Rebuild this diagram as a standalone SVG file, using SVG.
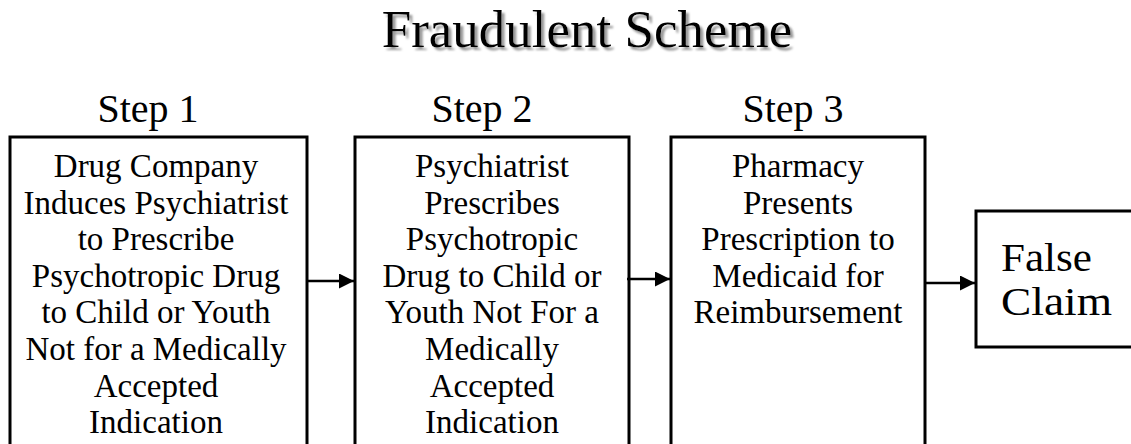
<svg xmlns="http://www.w3.org/2000/svg" width="1131" height="444" viewBox="0 0 1131 444">
<style>
text{font-family:"Liberation Serif","Times New Roman",serif;fill:#000}
.t{font-size:33px;text-anchor:middle}
.step{font-size:40px;text-anchor:middle}
.box{fill:#fff;stroke:#000;stroke-width:3}
.conn{stroke:#000;stroke-width:2.5;fill:none}
.fc{font-size:39px}
</style>
<defs>
<marker id="ah" viewBox="0 0 10 10" refX="10" refY="5" markerWidth="7" markerHeight="6" markerUnits="strokeWidth" orient="auto">
<path d="M0,0 L10,5 L0,10 z" fill="#000"/>
</marker>
<filter id="shadow" x="-5%" y="-20%" width="110%" height="150%">
<feDropShadow dx="3" dy="3" stdDeviation="1" flood-color="#9a9a9a" flood-opacity="1"/>
</filter>
</defs>
<rect width="1131" height="444" fill="#fff"/>
<g id="title">
<text x="587" y="47" font-size="53" text-anchor="middle" filter="url(#shadow)">Fraudulent Scheme</text>
</g>
<g id="step-labels">
<text class="step" x="148" y="122">Step 1</text>
<text class="step" x="482" y="122">Step 2</text>
<text class="step" x="793" y="122">Step 3</text>
</g>
<g id="node1">
<rect class="box" x="10" y="137" width="297" height="320"/>
<text class="t" x="156" y="177">Drug Company</text>
<text class="t" x="156" y="214">Induces Psychiatrist</text>
<text class="t" x="156" y="250">to Prescribe</text>
<text class="t" x="156" y="287">Psychotropic Drug</text>
<text class="t" x="156" y="323">to Child or Youth</text>
<text class="t" x="156" y="360">Not for a Medically</text>
<text class="t" x="156" y="397">Accepted</text>
<text class="t" x="156" y="433">Indication</text>
</g>
<g id="node2">
<rect class="box" x="355" y="137" width="274" height="320"/>
<text class="t" x="492" y="177">Psychiatrist</text>
<text class="t" x="492" y="214">Prescribes</text>
<text class="t" x="492" y="250">Psychotropic</text>
<text class="t" x="492" y="287">Drug to Child or</text>
<text class="t" x="492" y="323">Youth Not For a</text>
<text class="t" x="492" y="360">Medically</text>
<text class="t" x="492" y="397">Accepted</text>
<text class="t" x="492" y="433">Indication</text>
</g>
<g id="node3">
<rect class="box" x="671" y="137" width="254" height="320"/>
<text class="t" x="798" y="177">Pharmacy</text>
<text class="t" x="798" y="214">Presents</text>
<text class="t" x="798" y="250">Prescription to</text>
<text class="t" x="798" y="287">Medicaid for</text>
<text class="t" x="798" y="323">Reimbursement</text>
</g>
<g id="node4">
<rect class="box" x="976" y="211" width="170" height="136"/>
<text class="fc" x="1001" y="271" textLength="91" lengthAdjust="spacingAndGlyphs">False</text>
<text class="fc" x="1001" y="315" textLength="111" lengthAdjust="spacingAndGlyphs">Claim</text>
</g>
<g id="connectors">
<line class="conn" x1="308" y1="281" x2="354" y2="281" marker-end="url(#ah)"/>
<line class="conn" x1="627" y1="279" x2="670" y2="279" marker-end="url(#ah)"/>
<line class="conn" x1="926" y1="283" x2="975" y2="283" marker-end="url(#ah)"/>
</g>
</svg>
